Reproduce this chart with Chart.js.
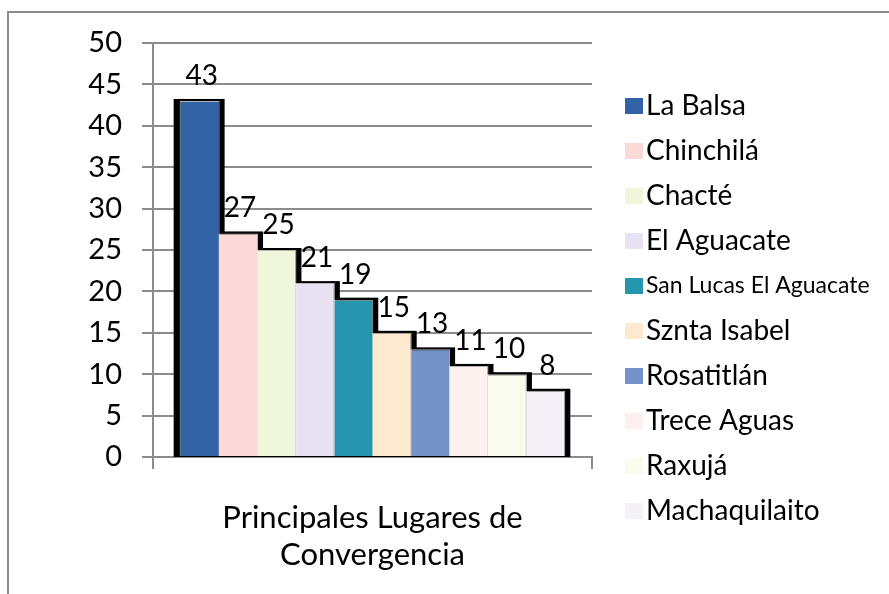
<!DOCTYPE html>
<html>
<head>
<meta charset="utf-8">
<script src="https://cdn.jsdelivr.net/npm/chart.js@4.4.1/dist/chart.umd.min.js"></script>
<style>
  html, body { margin: 0; padding: 0; background: #fff; }
  #wrap { position: relative; width: 889px; height: 594px; overflow: hidden; }
  #frame { position: absolute; left: 7px; top: 11px; width: 900px; height: 600px;
           border-top: 2px solid #8c8c8c; border-left: 2px solid #8c8c8c; }
  canvas { position: absolute; left: 0; top: 0; }
</style>
</head>
<body>
<div id="wrap">
  <div id="frame"></div>
  <canvas id="chart" width="889" height="594"></canvas>
</div>
<script>
// data
const category = [['Principales Lugares de', 'Convergencia']];
const places = ['La Balsa', 'Chinchilá', 'Chacté', 'El Aguacate', 'San Lucas El Aguacate',
                'Sznta Isabel', 'Rosatitlán', 'Trece Aguas', 'Raxujá', 'Machaquilaito'];
const counts = [43, 27, 25, 21, 19, 15, 13, 11, 10, 8];
const yTicks = [0, 5, 10, 15, 20, 25, 30, 35, 40, 45, 50];

const colors = ['#3163a6', '#fbd9d9', '#f0f6dc', '#e8e2f2', '#2496ae',
                '#fde9cf', '#7592c8', '#fdf1ef', '#f8fbed', '#f4f1f9'];

const FONT = 'Lato, "Open Sans", sans-serif';
const gridGray = '#8c8c8c';

// black drop shadow behind every bar, drawn before the bars
const shadowPlugin = {
    id: 'shadowPlugin',
    beforeDatasetsDraw: (chart) => {
        const ctx = chart.ctx;
        ctx.save();
        ctx.fillStyle = '#000';
        chart.data.datasets.forEach((ds, i) => {
            chart.getDatasetMeta(i).data.forEach((bar) => {
                const w = bar.width;
                const left = bar.x - w / 2 - 6;
                const right = bar.x + w / 2 + 5;
                ctx.fillRect(left, bar.y - 2, right - left, bar.base - bar.y + 3);
            });
        });
        ctx.restore();
    }
};

// value above each bar
const valuePlugin = {
    id: 'valuePlugin',
    afterDatasetsDraw: (chart) => {
        const ctx = chart.ctx;
        ctx.save();
        ctx.font = '28px ' + FONT;
        ctx.fillStyle = '#000';
        ctx.textAlign = 'center';
        ctx.textBaseline = 'alphabetic';
        chart.data.datasets.forEach((ds, i) => {
            chart.getDatasetMeta(i).data.forEach((bar, j) => {
                ctx.fillText(String(ds.data[j]), bar.x + 2, bar.y - 16);
            });
        });
        ctx.restore();
    }
};

// legend on the right, drawn by hand so item sizes can differ
const legendPlugin = {
    id: 'legendPlugin',
    afterDraw: (chart) => {
        const ctx = chart.ctx;
        ctx.save();
        ctx.textBaseline = 'middle';
        ctx.textAlign = 'left';
        chart.data.datasets.forEach((ds, i) => {
            const cy = 106 + i * 45;
            ctx.fillStyle = ds.backgroundColor;
            ctx.fillRect(625, cy - 8, 18, 16);
            ctx.fillStyle = '#000';
            const size = ds.label.length > 15 ? 23 : 28;
            ctx.font = size + 'px ' + FONT;
            ctx.fillText(ds.label, 646, cy);
        });
        ctx.restore();
    }
};

const datasets = places.map((p, i) => ({
    label: p,
    data: [counts[i]],
    backgroundColor: colors[i],
    borderColor: 'rgba(255,255,255,0.7)',
    borderWidth: 1,
    borderSkipped: 'bottom'
}));

new Chart(document.getElementById('chart').getContext('2d'), {
    type: 'bar',
    data: { labels: category, datasets: datasets },
    options: {
        responsive: false,
        animation: false,
        devicePixelRatio: 1,
        layout: { padding: { left: 0, right: 297, top: 43, bottom: 0 } },
        categoryPercentage: 0.875,
        barPercentage: 1.04,
        plugins: {
            legend: { display: false },
            tooltip: { enabled: false }
        },
        scales: {
            x: {
                grid: { display: true, drawOnChartArea: false, drawTicks: true, tickLength: 12,
                        color: gridGray, lineWidth: 2, offset: true },
                border: { display: true, color: gridGray, width: 2 },
                ticks: { color: '#000', padding: 30, font: { family: FONT, size: 31, lineHeight: 1.2 } },
                afterFit: (s) => { s.height = 137; }
            },
            y: {
                min: yTicks[0],
                max: yTicks[yTicks.length - 1],
                afterBuildTicks: (s) => { s.ticks = yTicks.map(v => ({ value: v })); },
                grid: { color: gridGray, lineWidth: 2, tickLength: 11 },
                border: { display: true, color: gridGray, width: 2 },
                ticks: { color: '#000', padding: 20, font: { family: FONT, size: 29 } },
                afterFit: (s) => { s.width = 153; }
            }
        }
    },
    plugins: [shadowPlugin, valuePlugin, legendPlugin]
});
</script>
</body>
</html>
